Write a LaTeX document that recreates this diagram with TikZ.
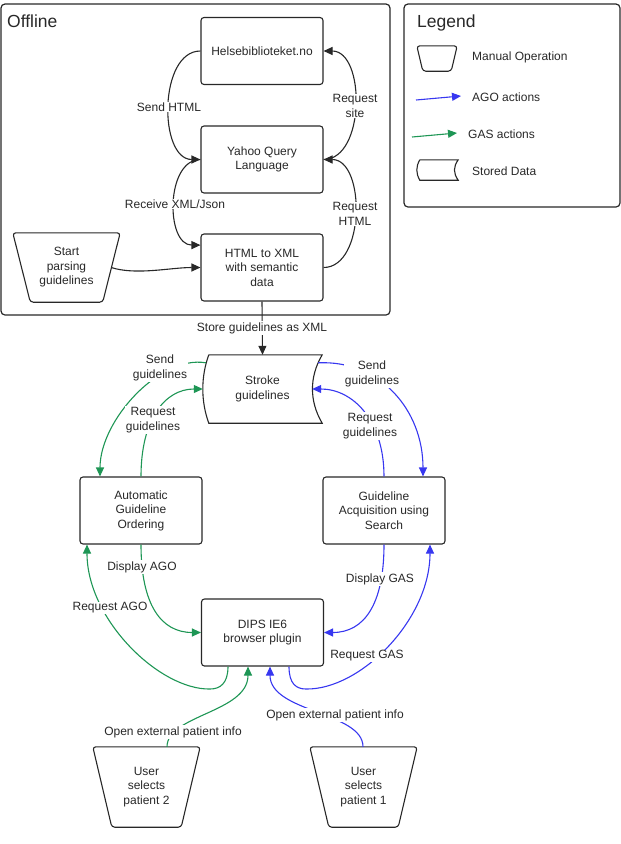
\documentclass[tikz,border=0pt]{standalone}
\usepackage{fontspec}
\setmainfont{Liberation Sans}
\usetikzlibrary{arrows.meta}
\definecolor{agoblue}{RGB}{55,55,240}
\definecolor{gasgreen}{RGB}{30,150,85}
\definecolor{ink}{RGB}{40,40,40}
\begin{document}
\begin{tikzpicture}[x=1pt,y=-1pt,
  font=\fontsize{12}{14.5}\selectfont,
  every node/.style={text=ink},
  procbox/.style={draw=ink, line width=1.1pt, rounded corners=3pt, fill=white, minimum width=122pt, minimum height=67pt, align=center, inner sep=0pt},
  manualbox/.style={minimum width=107pt, align=center, inner sep=0pt},
  outline/.style={draw=ink, line width=1.1pt, rounded corners=3pt},
  storeline/.style={draw=ink, line width=1.1pt},
  frame/.style={draw=ink, line width=1.2pt, rounded corners=4pt},
  lbl/.style={fill=white, inner sep=1pt, align=center},
  flow/.style={line width=1.1pt, -{Triangle[length=9pt,width=8pt]}},
  title/.style={font=\fontsize{17.5}{20}\selectfont, anchor=base west, inner sep=0pt},
  legtext/.style={anchor=west, inner sep=0pt}
]
\useasboundingbox (0,0) rectangle (621,844);

% frames
\node[frame, minimum width=389pt, minimum height=311pt] (offline) at (195.5,159.5) {};
\node[frame, minimum width=216pt, minimum height=203pt] (legend) at (512,105.5) {};
\node[title] (offtitle) at (7,27) {Offline};
\node[title] (legtitle) at (417,27) {Legend};

% legend
\node[minimum width=40pt, minimum height=25pt, inner sep=0pt] (legman) at (437,58.5) {};
\draw[outline] (legman.north west) -- (legman.north east) -- ([xshift=-6pt]legman.south east) -- ([xshift=6pt]legman.south west) -- cycle;
\node[legtext] (legmantext) at (472,57) {Manual Operation};
\coordinate (lagoA) at (416,100);
\coordinate (lagoB) at (461,96);
\draw[flow, agoblue] (lagoA) -- (lagoB);
\node[legtext] (legagotext) at (472,97) {AGO actions};
\coordinate (lgasA) at (412,137);
\coordinate (lgasB) at (457,133);
\draw[flow, gasgreen] (lgasA) -- (lgasB);
\node[legtext] (leggastext) at (468,134) {GAS actions};
\node[minimum width=41pt, minimum height=20pt, inner sep=0pt] (legstore) at (437.5,170) {};
\draw[storeline] ([xshift=3pt]legstore.north west) -- (legstore.north east)
  .. controls +(-5,7) and +(-5,-7) .. (legstore.south east)
  -- ([xshift=3pt]legstore.south west)
  .. controls +(-4,-7) and +(-4,7) .. ([xshift=3pt]legstore.north west);
\node[legtext] (legstoretext) at (472,171) {Stored Data};

% offline nodes
\node[procbox] (helse) at (262,51) {Helsebiblioteket.no};
\node[procbox] (yql) at (262,159.5) {Yahoo Query\\Language};
\node[procbox] (html) at (262,267.5) {HTML to XML\\with semantic\\data};
\node[manualbox, minimum height=69pt] (start) at (66.5,267.5) {Start\\parsing\\guidelines};
\draw[outline] (start.north west) -- (start.north east) -- ([xshift=-17.5pt]start.south east) -- ([xshift=17.5pt]start.south west) -- cycle;

% stroke guidelines
\node[minimum width=119pt, minimum height=68pt, inner sep=0pt, align=center] (stroke) at (262.5,389) {Stroke\\guidelines};
\draw[storeline] ([xshift=6pt]stroke.north west) -- (stroke.north east)
  .. controls +(-13,22) and +(-13,-22) .. (stroke.south east)
  -- ([xshift=6pt]stroke.south west)
  .. controls +(-8,-22) and +(-8,22) .. ([xshift=6pt]stroke.north west);

\node[procbox] (ago) at (141,510.5) {Automatic\\Guideline\\Ordering};
\node[procbox] (gas) at (384,510.5) {Guideline\\Acquisition using\\Search};
\node[procbox] (dips) at (262.5,632.5) {DIPS IE6\\browser plugin};
\node[manualbox, minimum height=80pt] (user2) at (146.5,787) {User\\selects\\patient 2};
\draw[outline] (user2.north west) -- (user2.north east) -- ([xshift=-19pt]user2.south east) -- ([xshift=19pt]user2.south west) -- cycle;
\node[manualbox, minimum height=80pt] (user1) at (363.5,787) {User\\selects\\patient 1};
\draw[outline] (user1.north west) -- (user1.north east) -- ([xshift=-19pt]user1.south east) -- ([xshift=19pt]user1.south west) -- cycle;

% offline connectors
\draw[flow, ink] (helse.west) .. controls +(-42,0) and +(-42,0) .. (yql.west);
\draw[flow, ink] (yql.east) .. controls +(42,0) and +(42,0) .. (helse.east);
\draw[flow, ink] (yql.west) .. controls +(-35,0) and +(-35,0) .. (html.160);
\draw[flow, ink] (html.east) .. controls +(42,0) and +(42,0) .. (yql.east);
\draw[flow, ink] ([xshift=-9pt]start.east) .. controls +(25,8) and +(-30,0) .. (html.west);
\draw[flow, ink] (html.south) -- (stroke.north);

% green connectors
\draw[flow, gasgreen] ([xshift=3pt,yshift=-8pt]stroke.north west) .. controls (160,355) and (100,420) .. ([xshift=-41pt]ago.north);
\draw[flow, gasgreen] (ago.north) .. controls +(0,-57) and +(-38,0) .. (stroke.west);
\draw[flow, gasgreen] (ago.south) .. controls +(0,60) and +(-40,0) .. (dips.west);
\draw[flow, gasgreen] ([xshift=-34.5pt]dips.south) .. controls +(0,17) and +(10,0) .. (210,689)
  .. controls (160,690) and (87,620) .. ([xshift=-54pt]ago.south);
\draw[flow, gasgreen] ([xshift=20.5pt]user2.north) .. controls +(0,-32) and +(0,46) .. ([xshift=-14.5pt]dips.south);

% blue connectors
\draw[flow, agoblue] ([xshift=-4pt,yshift=-8pt]stroke.north east) .. controls (380,360) and (423,410) .. ([xshift=39pt]gas.north);
\draw[flow, agoblue] (gas.north) .. controls +(0,-57) and +(40,0) .. ([xshift=-10pt]stroke.east);
\draw[flow, agoblue] (gas.south) .. controls +(0,60) and +(40,0) .. (dips.east);
\draw[flow, agoblue] ([xshift=26.5pt]dips.south) .. controls +(0,17) and +(-10,0) .. (306,689)
  .. controls (360,690) and (430,620) .. ([xshift=46pt]gas.south);
\draw[flow, agoblue] ([xshift=-0.5pt]user1.north) .. controls +(0,-35) and +(0,46) .. ([xshift=7.5pt]dips.south);

% labels
\node[lbl] (lsendhtml) at (169,107) {Send HTML};
\node[lbl] (lreqsite) at (355,106) {Request\\site};
\node[lbl] (lrecv) at (175,204) {Receive XML/Json};
\node[lbl] (lreqhtml) at (355,214) {Request\\HTML};
\node[lbl] (lstore) at (262,328) {Store guidelines as XML};
\node[lbl] (lgsend) at (160,368) {Send\\guidelines};
\node[lbl] (lgreq) at (153,420) {Request\\guidelines};
\node[lbl] (lbsend) at (372,374) {Send\\guidelines};
\node[lbl] (lbreq) at (370,426) {Request\\guidelines};
\node[lbl] (ldago) at (142,567) {Display AGO};
\node[lbl] (lrago) at (110,608) {Request AGO};
\node[lbl] (ldgas) at (380,579) {Display GAS};
\node[lbl] (lrgas) at (367,656) {Request GAS};
\node[lbl] (lopen2) at (173,732) {Open external patient info};
\node[lbl] (lopen1) at (335,715) {Open external patient info};
\end{tikzpicture}
\end{document}
